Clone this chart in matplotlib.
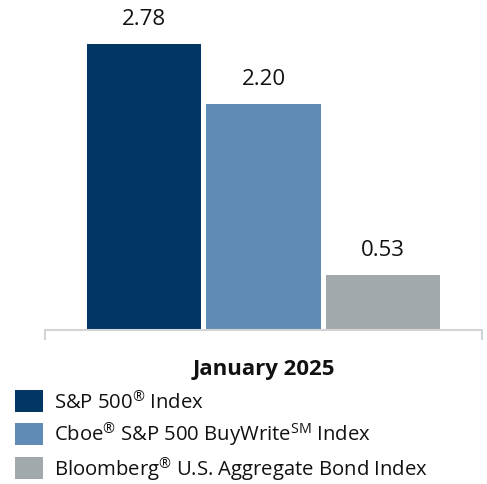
import matplotlib
matplotlib.use("Agg")
import matplotlib.pyplot as plt
from matplotlib.patches import Patch

plt.rcParams['font.family'] = ['Open Sans', 'DejaVu Sans']
plt.rcParams['mathtext.fontset'] = 'custom'
plt.rcParams['mathtext.rm'] = 'Open Sans'
plt.rcParams['mathtext.it'] = 'Open Sans'
plt.rcParams['mathtext.bf'] = 'Open Sans:bold'

# Data
series = ["S&P 500$^{®}$ Index",
          "Cboe$^{®}$ S&P 500 BuyWrite$^{\\mathrm{SM}}$ Index",
          "Bloomberg$^{®}$ U.S. Aggregate Bond Index"]
values = [2.78, 2.20, 0.53]
value_labels = ["2.78", "2.20", "0.53"]
category = "January 2025"
colors = ["#023764", "#5f8bb5", "#a2a9ac"]

fig = plt.figure(figsize=(4.87, 4.85), dpi=100)
ax = fig.add_axes([45/487, 1-331/485, 437/487, 326/485])

positions = [0, 1, 2]
bars = ax.bar(positions, values, width=0.955, color=colors)
for b, lab in zip(bars, value_labels):
    ax.annotate(lab, (b.get_x() + b.get_width()/2, b.get_height()),
                xytext=(0, 15), textcoords='offset pixels',
                ha='center', va='bottom', fontsize=16, color='#111111')

ax.set_xlim(-0.828, 2.828)
ax.set_ylim(0, 3.17)
for s in ['top', 'right', 'left']:
    ax.spines[s].set_visible(False)
ax.spines['bottom'].set_color('#d4d4d4')
ax.spines['bottom'].set_linewidth(1.5)
ax.set_yticks([])
ax.set_xticks([-0.828, 2.828])
ax.set_xticklabels([])
ax.tick_params(axis='x', direction='out', length=7, width=1.5, color='#d4d4d4')
ax.set_xlabel(category, fontsize=16, fontweight='bold', color='#111111', labelpad=10)

handles = [Patch(facecolor=c, edgecolor='none') for c in colors]
fig.legend(handles, series, loc='upper left', bbox_to_anchor=(15/487, 1-391/485),
           frameon=False, fontsize=14.6, handlelength=1.38, handleheight=1.3,
           handletextpad=0.55, labelspacing=0.33, borderpad=0, borderaxespad=0,
           labelcolor='#111111')

fig.savefig("out.png", dpi=100)
